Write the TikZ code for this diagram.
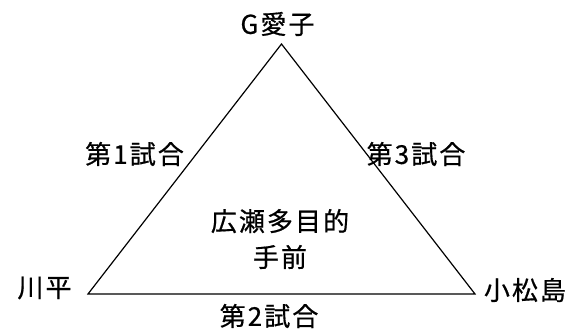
\documentclass[tikz,border=0pt]{standalone}
\usepackage{fontspec}
\newfontfamily\jp[LetterSpace=8,FakeBold=0.6]{Noto Sans CJK JP}
\begin{document}
\begin{tikzpicture}[x=1pt,y=1pt,
  lbl/.style={font=\jp\fontsize{26}{36}\selectfont, inner sep=0pt, align=center},
  edge/.style={draw=black, line width=1.2pt, line join=miter}]
\useasboundingbox (0,0) rectangle (571,335);
\fill[white] (0,0) rectangle (571,335);
\coordinate (T) at (281.5,291);
\coordinate (L) at (88,41);
\coordinate (R) at (475,41);
\draw[edge] (T) -- (L) -- (R) -- cycle;
\node[lbl] (top) at (277.5,311) {G愛子};
\node[lbl] (left) at (44.5,47) {川平};
\node[lbl] (right) at (525,45) {小松島};
\node[lbl] (m1) at (134.5,181) {第1試合};
\node[lbl] (m3) at (416,181) {第3試合};
\node[lbl] (m2) at (269,19) {第2試合};
\node[lbl] (c) at (280,96) {広瀬多目的\\手前};
\end{tikzpicture}
\end{document}
